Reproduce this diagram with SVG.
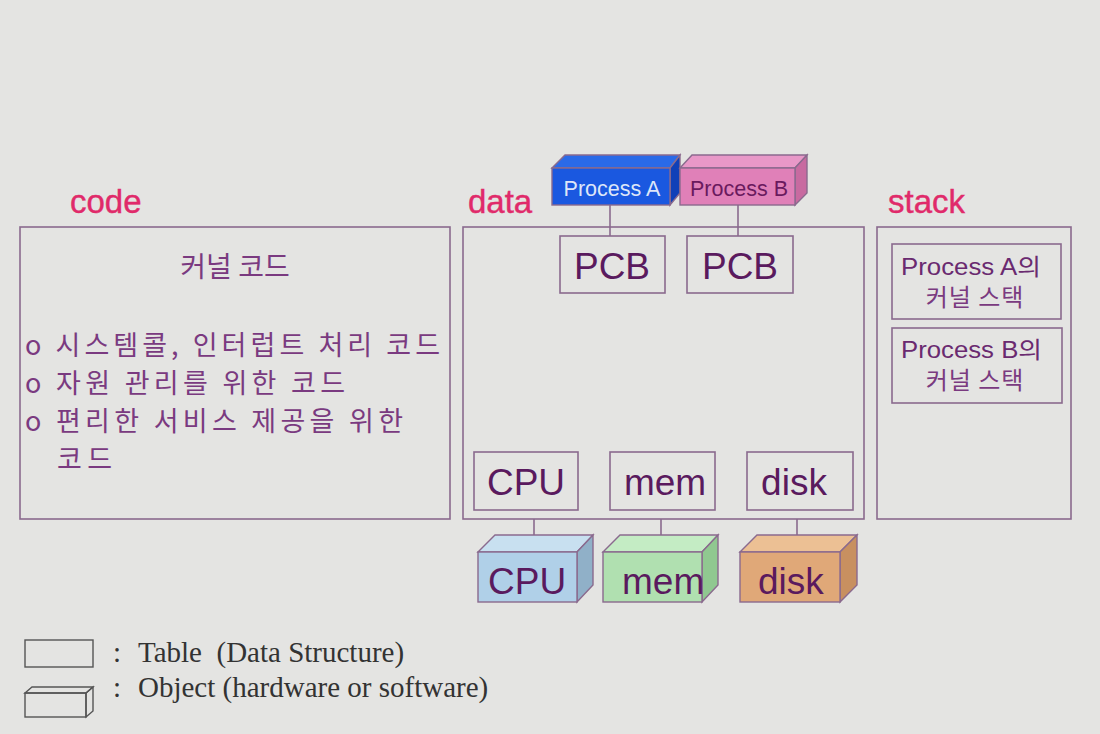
<svg xmlns="http://www.w3.org/2000/svg" width="1100" height="734" viewBox="0 0 1100 734">
<style>
.tbl{fill:none;stroke:#8a6a8e;stroke-width:1.6}
.con{stroke:#8a6a8e;stroke-width:1.6;fill:none}
.sec{font-family:"Liberation Sans",Arial,sans-serif;font-size:33px;fill:#e02a6a;stroke:#e02a6a;stroke-width:0.4}
.big{font-family:"Liberation Sans",Arial,sans-serif;font-size:37px;fill:#5a1a5e}
.kr{font-family:"Noto Sans CJK KR","Noto Sans",sans-serif;fill:#7a3a80}
.st{font-family:"Liberation Sans","Noto Sans CJK KR",sans-serif;fill:#6a2a70}
.lg{font-family:"Liberation Serif","Times New Roman",serif;font-size:29px;fill:#333}
.obj{stroke:#8a6a8e;stroke-width:1.4}
.ptx{font-family:"Liberation Sans",Arial,sans-serif;font-size:21.5px}
</style>
<rect width="1100" height="734" fill="#e4e4e2"/>

<g id="labels">
<text class="sec" x="70" y="213">code</text>
<text class="sec" x="468" y="213">data</text>
<text class="sec" x="888" y="213">stack</text>
</g>

<g id="code-box">
<rect class="tbl" x="20" y="227" width="430" height="292"/>
<text class="kr" x="235" y="277" font-size="28" text-anchor="middle">커널 코드</text>
<text class="kr" x="25" y="355" font-size="27" textLength="415" lengthAdjust="spacing">o 시스템콜, 인터럽트 처리 코드</text>
<text class="kr" x="25" y="393" font-size="27" textLength="320" lengthAdjust="spacing">o 자원 관리를 위한 코드</text>
<text class="kr" x="25" y="431" font-size="27" textLength="378" lengthAdjust="spacing">o 편리한 서비스 제공을 위한</text>
<text class="kr" x="57" y="469" font-size="27" textLength="55" lengthAdjust="spacing">코드</text>
</g>

<g id="data-box">
<rect class="tbl" x="463" y="227" width="401" height="292"/>
</g>

<g id="stack-box">
<rect class="tbl" x="877" y="227" width="194" height="292"/>
</g>

<g id="stack-a">
<rect class="tbl" x="892" y="244" width="169" height="75"/>
<text class="st" x="901" y="275" font-size="23" textLength="140" lengthAdjust="spacingAndGlyphs">Process A의</text>
<text class="kr" x="975" y="306" font-size="24" text-anchor="middle" letter-spacing="1">커널 스택</text>
</g>
<g id="stack-b">
<rect class="tbl" x="892" y="328" width="170" height="75"/>
<text class="st" x="901" y="358" font-size="23" textLength="141" lengthAdjust="spacingAndGlyphs">Process B의</text>
<text class="kr" x="975" y="389" font-size="24" text-anchor="middle" letter-spacing="1">커널 스택</text>
</g>

<g id="connectors">
<line class="con" x1="610" y1="205" x2="610" y2="236"/>
<line class="con" x1="738" y1="205" x2="738" y2="236"/>
<line class="con" x1="534" y1="519" x2="534" y2="535"/>
<line class="con" x1="661" y1="519" x2="661" y2="535"/>
<line class="con" x1="797" y1="519" x2="797" y2="535"/>
</g>

<g id="process-a">
<polygon class="obj" points="552,168 565,155 680,155 670,168" fill="#2a6ae8"/>
<polygon class="obj" points="670,168 680,155 680,193 670,205" fill="#1040b8"/>
<rect class="obj" x="552" y="168" width="118" height="37" fill="#1a58e0"/>
<text class="ptx" x="612" y="196" fill="#dde6f8" text-anchor="middle">Process A</text>
</g>
<g id="process-b">
<polygon class="obj" points="680,168 692,155 807,155 795,168" fill="#e898c8"/>
<polygon class="obj" points="795,168 807,155 807,193 795,205" fill="#c86aa0"/>
<rect class="obj" x="680" y="168" width="115" height="37" fill="#e080b8"/>
<text class="ptx" x="739" y="196" fill="#6a1a5e" text-anchor="middle">Process B</text>
</g>

<g id="pcb-a">
<rect class="tbl" x="560" y="236" width="105" height="57"/>
<text class="big" x="612" y="279" text-anchor="middle" font-size="38">PCB</text>
</g>
<g id="pcb-b">
<rect class="tbl" x="687" y="236" width="106" height="57"/>
<text class="big" x="740" y="279" text-anchor="middle" font-size="38">PCB</text>
</g>

<g id="cpu-table">
<rect class="tbl" x="474" y="452" width="104" height="58"/>
<text class="big" x="526" y="495" text-anchor="middle">CPU</text>
</g>
<g id="mem-table">
<rect class="tbl" x="610" y="452" width="105" height="58"/>
<text class="big" x="665" y="495" text-anchor="middle">mem</text>
</g>
<g id="disk-table">
<rect class="tbl" x="747" y="452" width="106" height="58"/>
<text class="big" x="794" y="495" text-anchor="middle">disk</text>
</g>

<g id="cpu-obj">
<polygon class="obj" points="478,552 495,535 593,535 577,552" fill="#c8e0f0"/>
<polygon class="obj" points="577,552 593,535 593,585 577,602" fill="#90b0c8"/>
<rect class="obj" x="478" y="552" width="99" height="50" fill="#b0d0e8"/>
<text class="big" x="488" y="594" font-size="27.5">CPU</text>
</g>
<g id="mem-obj">
<polygon class="obj" points="603,552 620,535 718,535 702,552" fill="#c4ecc4"/>
<polygon class="obj" points="702,552 718,535 718,585 702,602" fill="#90c890"/>
<rect class="obj" x="603" y="552" width="99" height="50" fill="#b0e0b0"/>
<text class="big" x="622" y="594" font-size="27.5">mem</text>
</g>
<g id="disk-obj">
<polygon class="obj" points="740,552 757,535 857,535 840,552" fill="#ecc094"/>
<polygon class="obj" points="840,552 857,535 857,585 840,602" fill="#c89060"/>
<rect class="obj" x="740" y="552" width="100" height="50" fill="#e0a878"/>
<text class="big" x="758" y="594" font-size="27.5">disk</text>
</g>

<g id="legend">
<rect x="25" y="640" width="68" height="27" fill="none" stroke="#555" stroke-width="1.4"/>
<polygon points="25,693 32,687 93,687 86,693" fill="none" stroke="#555" stroke-width="1.4"/>
<polygon points="86,693 93,687 93,711 86,717" fill="none" stroke="#555" stroke-width="1.4"/>
<rect x="25" y="693" width="61" height="24" fill="none" stroke="#555" stroke-width="1.4"/>
<text class="lg" x="113" y="662">:</text>
<text class="lg" x="138" y="662" xml:space="preserve">Table  (Data Structure)</text>
<text class="lg" x="113" y="697">:</text>
<text class="lg" x="138" y="697">Object (hardware or software)</text>
</g>
</svg>
